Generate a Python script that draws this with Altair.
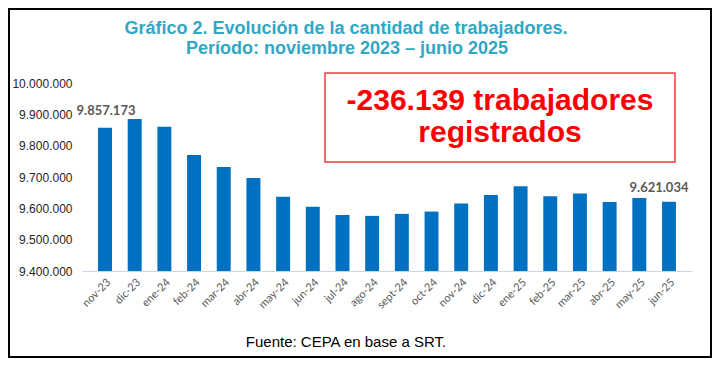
import altair as alt
import pandas as pd

months = ["nov-23", "dic-23", "ene-24", "feb-24", "mar-24", "abr-24", "may-24", "jun-24",
          "jul-24", "ago-24", "sept-24", "oct-24", "nov-24", "dic-24", "ene-25", "feb-25",
          "mar-25", "abr-25", "may-25", "jun-25"]
workers = [9857173, 9885500, 9860000, 9770600, 9732300, 9697200, 9636600, 9604700,
           9579100, 9575900, 9582300, 9589600, 9615200, 9642900, 9670300, 9638500,
           9647000, 9620400, 9633200, 9621034]
labels = ["9.857.173"] + [""] * 18 + ["9.621.034"]

title_lines = ["Gráfico 2. Evolución de la cantidad de trabajadores.",
               "Período: noviembre 2023 – junio 2025"]
box_lines = ["-236.139 trabajadores", "registrados"]
source = "Fuente: CEPA en base a SRT."
y_min, y_max, y_step = 9400000, 10000000, 100000

df = pd.DataFrame({"mes": months, "trab": workers, "lab": labels})

W, H = 610, 188
x_enc = alt.X("mes:N", sort=months, title=None,
              scale=alt.Scale(paddingInner=0.53, paddingOuter=0.54),
              axis=alt.Axis(labelAngle=-45, labelFont="Lato", labelFontSize=11,
                            labelColor="#595959", ticks=False, labelPadding=5,
                            domainColor="#c9d6ea", domainWidth=1))
y_enc = alt.Y("trab:Q", title=None,
              scale=alt.Scale(domain=[y_min, y_max], nice=False, zero=False),
              axis=alt.Axis(values=list(range(y_min, y_max + 1, y_step)),
                            labelExpr="replace(replace(format(datum.value, ',.0f'), ',', '.'), ',', '.')",
                            labelFont="Liberation Sans", labelFontSize=12,
                            labelColor="#262626", ticks=False, domain=False,
                            grid=False, labelPadding=10))

base = alt.Chart(df)
bars = base.mark_bar(color="#0070C0").encode(x=x_enc, y=y_enc, y2=alt.datum(y_min))
lab1 = base.transform_filter(alt.datum.mes == "nov-23").mark_text(
    font="Lato", fontWeight="bold", fontSize=13, color="#595959",
    baseline="alphabetic", dy=-13, dx=1).encode(x=x_enc, y=y_enc, text="lab:N")
lab2 = base.transform_filter(alt.datum.mes == "jun-25").mark_text(
    font="Lato", fontWeight="bold", fontSize=13, color="#595959",
    baseline="alphabetic", dy=-10, dx=-10).encode(x=x_enc, y=y_enc, text="lab:N")

one = alt.Data(values=[{"a": 1}])

border = alt.Chart(one).mark_rect(fill="transparent", stroke="black", strokeWidth=2).encode(
    x=alt.value(-73), x2=alt.value(629), y=alt.value(-74), y2=alt.value(274))

t1 = alt.Chart(one).mark_text(font="Liberation Sans", fontWeight="bold", fontSize=18,
                              color="#31A7C4", baseline="alphabetic").encode(
    x=alt.value(264), y=alt.value(-49), text=alt.value(title_lines[0]))
t2 = alt.Chart(one).mark_text(font="Liberation Sans", fontWeight="bold", fontSize=18,
                              color="#31A7C4", baseline="alphabetic").encode(
    x=alt.value(265), y=alt.value(-29), text=alt.value(title_lines[1]))

box = alt.Chart(one).mark_rect(fill="white", stroke="#F23A3A", strokeWidth=1.5).encode(
    x=alt.value(243), x2=alt.value(593), y=alt.value(-10), y2=alt.value(79))
b1 = alt.Chart(one).mark_text(font="Liberation Sans", fontWeight="bold", fontSize=30,
                              color="#FF0000", baseline="alphabetic").encode(
    x=alt.value(418), y=alt.value(27), text=alt.value(box_lines[0]))
b2 = alt.Chart(one).mark_text(font="Liberation Sans", fontWeight="bold", fontSize=30,
                              color="#FF0000", baseline="alphabetic").encode(
    x=alt.value(418), y=alt.value(59), text=alt.value(box_lines[1]))

foot = alt.Chart(one).mark_text(font="Liberation Sans", fontSize=15, color="black",
                                baseline="alphabetic").encode(
    x=alt.value(264), y=alt.value(264), text=alt.value(source))

chart = alt.layer(border, bars, lab1, lab2, box, b1, b2, t1, t2, foot).properties(
    width=W, height=H,
    autosize=alt.AutoSizeParams(type="none"),
    padding={"left": 74, "top": 75, "right": 20, "bottom": 87},
    background="white",
).configure_view(stroke=None)

chart.save("out.html", embed_options={"renderer": "svg", "actions": False})
